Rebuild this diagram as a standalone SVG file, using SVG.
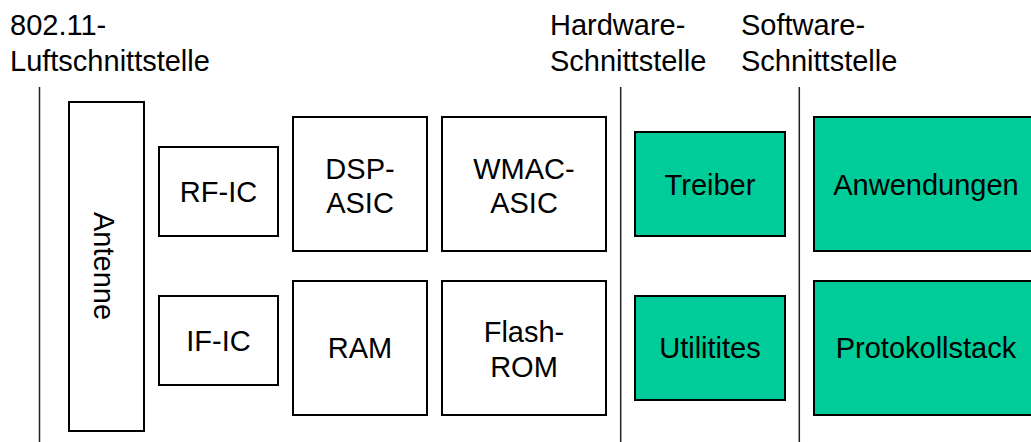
<svg xmlns="http://www.w3.org/2000/svg" width="1031" height="442" viewBox="0 0 1031 442">
<style>
text{font-family:"Liberation Sans",Arial,sans-serif;font-size:29px;fill:#000}
.c{text-anchor:middle}
.box{fill:#fff;stroke:#000;stroke-width:2}
.g{fill:#00cc99;stroke:#000;stroke-width:2}
.sep{stroke:#222;stroke-width:1.5;fill:none}
</style>
<rect width="1031" height="442" fill="#fff"/>
<g id="labels">
<text x="10" y="35">802.11-</text>
<text x="10" y="71">Luftschnittstelle</text>
<text x="550" y="35">Hardware-</text>
<text x="550" y="71">Schnittstelle</text>
<text x="741" y="35">Software-</text>
<text x="741" y="71">Schnittstelle</text>
</g>
<g id="connectors">
<line class="sep" x1="39.5" y1="87" x2="39.5" y2="442"/>
<line class="sep" x1="620.7" y1="87" x2="620.7" y2="442"/>
<line class="sep" x1="799.3" y1="87" x2="799.3" y2="442"/>
</g>
<g id="antenne">
<rect class="box" x="69" y="102" width="75" height="329"/>
<text class="c" transform="translate(94,266) rotate(90)">Antenne</text>
</g>
<g id="rf-ic">
<rect class="box" x="159" y="147" width="119" height="89"/>
<text class="c" x="218.5" y="202">RF-IC</text>
</g>
<g id="if-ic">
<rect class="box" x="159" y="296" width="119" height="89"/>
<text class="c" x="218.5" y="351">IF-IC</text>
</g>
<g id="dsp-asic">
<rect class="box" x="293" y="117" width="134" height="134"/>
<text class="c" x="360" y="179">DSP-</text>
<text class="c" x="360" y="213">ASIC</text>
</g>
<g id="wmac-asic">
<rect class="box" x="442" y="117" width="164" height="134"/>
<text class="c" x="524" y="179">WMAC-</text>
<text class="c" x="524" y="213">ASIC</text>
</g>
<g id="ram">
<rect class="box" x="293" y="281" width="134" height="134"/>
<text class="c" x="360" y="358">RAM</text>
</g>
<g id="flash-rom">
<rect class="box" x="442" y="281" width="164" height="134"/>
<text class="c" x="524" y="342">Flash-</text>
<text class="c" x="524" y="377">ROM</text>
</g>
<g id="treiber">
<rect class="g" x="635" y="132" width="150" height="104"/>
<text class="c" x="710" y="195">Treiber</text>
</g>
<g id="utilitites">
<rect class="g" x="635" y="296" width="150" height="104"/>
<text class="c" x="710" y="358">Utilitites</text>
</g>
<g id="anwendungen">
<rect class="g" x="814" y="117" width="224" height="134"/>
<text class="c" x="926" y="195">Anwendungen</text>
</g>
<g id="protokollstack">
<rect class="g" x="814" y="281" width="224" height="134"/>
<text class="c" x="926" y="358">Protokollstack</text>
</g>
</svg>
